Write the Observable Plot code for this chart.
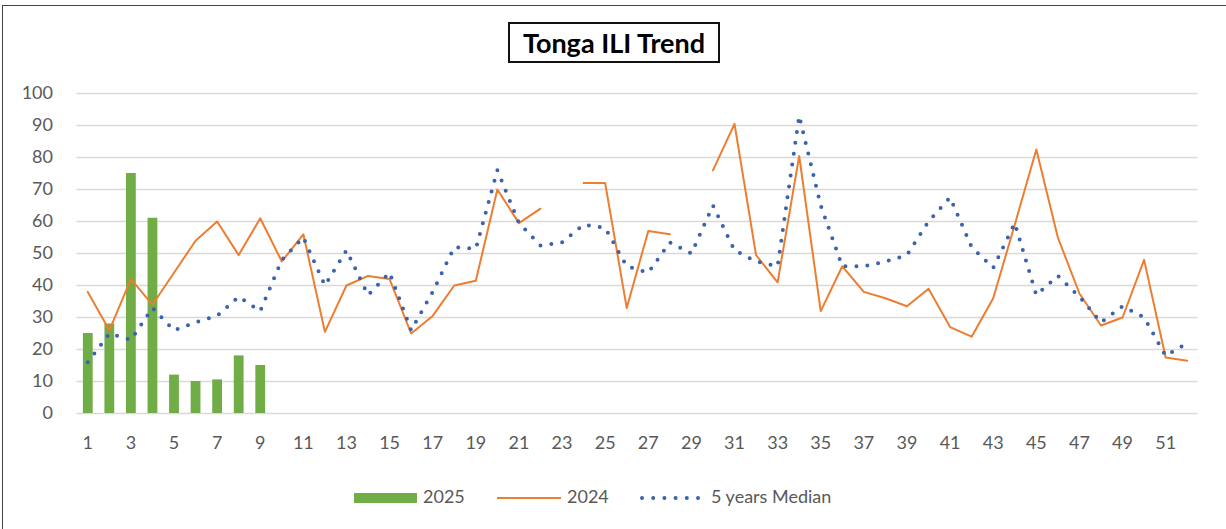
<!DOCTYPE html>
<html>
<head>
<meta charset="utf-8">
<script src="https://cdn.jsdelivr.net/npm/d3@7"></script>
<script src="https://cdn.jsdelivr.net/npm/@observablehq/plot@0.6"></script>
<style>
  body { margin: 0; background: #fff; }
  #frame { position: relative; width: 1226px; height: 529px; overflow: hidden; font-family: Lato, "Open Sans", sans-serif; background: #fff; }
  #border { position: absolute; left: 2px; top: 5px; right: -5px; bottom: -5px; border-top: 1.5px solid #444; border-left: 1.5px solid #444; pointer-events: none; }
  #title { position: absolute; left: 508px; top: 22px; width: 208px; height: 37px; border: 2px solid #111; display: flex; align-items: center; justify-content: center; font-weight: 700; font-size: 27px; color: #000; }
  #chart { position: absolute; left: 0; top: 75px; }
  .lg { position: absolute; font-size: 18px; color: #595959; line-height: 20px; }
</style>
</head>
<body>
<div id="frame">
  <div id="border"></div>
  <div id="title">Tonga ILI Trend</div>
  <div id="chart"></div>
  <div id="legend"></div>
</div>
<script>
// Epidemiological weeks (categories)
const weeks = [1,2,3,4,5,6,7,8,9,10,11,12,13,14,15,16,17,18,19,20,21,22,23,24,25,26,
               27,28,29,30,31,32,33,34,35,36,37,38,39,40,41,42,43,44,45,46,47,48,49,50,51,52];
// 2025 ILI cases (weeks 1-9)
const cases2025 = [25, 28, 75, 61, 12, 10, 10.5, 18, 15];
// 2024 ILI cases (null = no report)
const cases2024 = [38, 26, 42, 34, 44, 54, 60, 49.5, 61, 47.5, 56, 25.5, 40, 43, 42, 25, 30.5, 40, 41.5, 70,
                   59.5, 64, null, 72, 72, 33, 57, 56, null, 76, 90.5, 49.5, 41, 80.5, 32, 46, 38, 36, 33.5, 39,
                   27, 24, 36, 59, 82.5, 55, 37.5, 27.5, 30, 48, 17.5, 16.5];
// 5 years median
const median5y = [16, 25, 23, 33, 26, 28.5, 30.5, 36.5, 32, 48, 55, 40, 51, 37, 44, 26, 38, 52, 51.5, 76,
                  59.5, 52.5, 53.5, 59, 58, 46, 44, 53.5, 50, 65, 51, 47.5, 46, 93, 65, 46, 46, 47.5, 49.5, 60,
                  67.5, 52, 45.5, 59.5, 37, 43, 36.5, 28.5, 33.5, 30, 18, 22];
// Tick labels
const yTicks = [0, 10, 20, 30, 40, 50, 60, 70, 80, 90, 100];
const xTicks = [1,3,5,7,9,11,13,15,17,19,21,23,25,27,29,31,33,35,37,39,41,43,45,47,49,51];

const seriesNames = ["2025", "2024", "5 years Median"];
const colors = {"2025": "#70ad47", "2024": "#ed7d31", "5 years Median": "#3a62ad"};

const rows = weeks.map((w, i) => ({week: w, y2024: cases2024[i], median: median5y[i]}));
const bars = cases2025.map((v, i) => ({week: weeks[i], value: v}));

const chart = Plot.plot({
  width: 1226,
  height: 390,
  marginLeft: 76.5,
  marginRight: 28.5,
  marginTop: 18,
  marginBottom: 52,
  style: {fontFamily: "Lato, 'Open Sans', sans-serif", fontSize: "18px", color: "#595959", background: "transparent", overflow: "visible"},
  x: {type: "linear", domain: [0.5, 52.5]},
  y: {domain: [0, 100]},
  marks: [
    Plot.ruleY(yTicks, {stroke: "#d9d9d9", strokeWidth: 1.3}),
    Plot.ruleX(bars, {x: "week", y1: 0, y2: "value", stroke: colors["2025"], strokeWidth: 9.8}),
    Plot.lineY(rows, {x: "week", y: "y2024", stroke: colors["2024"], strokeWidth: 2}),
    Plot.lineY(rows, {x: "week", y: "median", stroke: colors["5 years Median"], strokeWidth: 4,
                      strokeDasharray: "0 11", strokeLinecap: "round"}),
    Plot.axisY({ticks: yTicks, tickSize: 0, tickPadding: 24, label: null, fill: "#595959", fontSize: 18}),
    Plot.axisX({ticks: xTicks, tickSize: 0, tickPadding: 23, label: null, fill: "#595959", fontSize: 18, tickFormat: d => String(d)})
  ]
});
document.getElementById("chart").appendChild(chart);

// Legend
const legend = document.getElementById("legend");
const items = [
  {name: seriesNames[0], swatch: `<div style="position:absolute;left:354px;top:493px;width:63px;height:10px;background:${colors["2025"]}"></div>`, tx: 423},
  {name: seriesNames[1], swatch: `<svg style="position:absolute;left:496px;top:493px" width="66" height="10"><line x1="1" x2="65" y1="5" y2="5" stroke="${colors["2024"]}" stroke-width="2"/></svg>`, tx: 567},
  {name: seriesNames[2], swatch: `<svg style="position:absolute;left:636px;top:493px" width="70" height="10"><line x1="6" x2="64" y1="5" y2="5" stroke="${colors["5 years Median"]}" stroke-width="4" stroke-linecap="round" stroke-dasharray="0 11.2"/></svg>`, tx: 711}
];
legend.innerHTML = items.map(d => d.swatch + `<div class="lg" style="left:${d.tx}px;top:486px">${d.name}</div>`).join("");
</script>
</body>
</html>
